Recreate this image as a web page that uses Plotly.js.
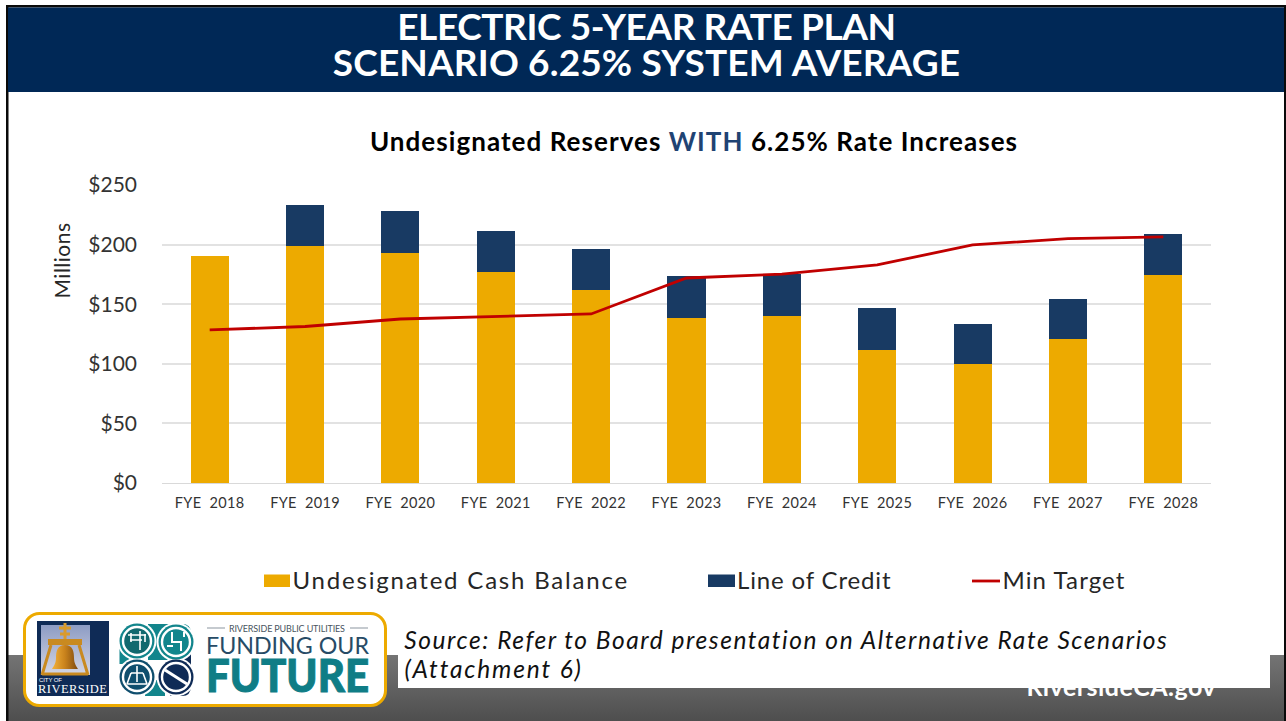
<!DOCTYPE html>
<html>
<head>
<meta charset="utf-8">
<script src="https://cdn.plot.ly/plotly-3.0.1.min.js"></script>
<style>
html,body{margin:0;padding:0;background:#fff;overflow:hidden}
#wrap{position:relative;width:1286px;height:721px}
#deco{position:absolute;left:0;top:0}
#chart{position:absolute;left:0;top:0;width:1286px;height:721px}
.gtitle{letter-spacing:1.05px}
.xtick text{letter-spacing:.35px}
.annotation[data-index="1"] text{letter-spacing:1.55px}
.annotation[data-index="2"] text{letter-spacing:1.85px}
.annotation[data-index="3"] text{letter-spacing:.5px}
.annotation[data-index="4"] text{letter-spacing:1.8px}
.annotation[data-index="5"] text{letter-spacing:.85px}
.annotation[data-index="6"] text{letter-spacing:1.1px}
</style>
</head>
<body>
<div id="wrap">
<svg id="deco" width="1286" height="721" viewBox="0 0 1286 721">
  <defs>
    <linearGradient id="foot" x1="0" y1="0" x2="0" y2="1"><stop offset="0" stop-color="#747474"/><stop offset="1" stop-color="#4e4e4e"/></linearGradient>
    <linearGradient id="sky" x1="0" y1="0" x2="0" y2="1"><stop offset="0" stop-color="#8d9cc4"/><stop offset="1" stop-color="#d4d6e4"/></linearGradient>
    <linearGradient id="gold" x1="0" y1="0" x2="1" y2="0"><stop offset="0" stop-color="#f3b23a"/><stop offset="0.5" stop-color="#c9821c"/><stop offset="1" stop-color="#7e4a10"/></linearGradient>
  </defs>
  <rect x="0" y="0" width="1286" height="721" fill="#fff"/>
  <rect x="8" y="655" width="1276" height="66" fill="url(#foot)"/>
  <rect x="6" y="5" width="2.5" height="716" fill="#0a0a0a"/>
  <rect x="6" y="5" width="1279" height="2.5" fill="#0a0a0a"/>
  <rect x="1284" y="5" width="2" height="716" fill="#0a0a0a"/>
  <rect x="8" y="7.5" width="1276" height="84.5" fill="#002856"/>
  <text x="1121" y="696" text-anchor="middle" fill="#fff" font-family="Lato" font-weight="700" font-size="25" textLength="189">RiversideCA.gov</text>
  <rect x="398" y="622" width="872" height="66" fill="#fff"/>
  <rect x="24.5" y="613.5" width="361" height="92" rx="15" fill="#fff" stroke="#edaa00" stroke-width="3"/>
  <!-- city seal -->
  <rect x="37" y="621" width="72" height="75" fill="#0f2b56"/>
  <rect x="41" y="625" width="49" height="50" fill="url(#sky)"/>
  <path d="M65 623v17M59 628h12M60 634h10" stroke="#d99a2b" stroke-width="3" fill="none"/>
  <rect x="48" y="639" width="34" height="6" fill="#c98a20"/>
  <path d="M51 645L42 675M79 645L88 675M42 674h46" stroke="#c98a20" stroke-width="3" fill="none"/>
  <path d="M65 645c-8 0-9 7-9 13c0 6-3 9-4 11h26c-1-2-4-5-4-11c0-6-1-13-9-13z" fill="url(#gold)"/>
  <text font-family="Liberation Sans" fill="#fff"><tspan x="39" y="682" font-size="6" textLength="23">CITY OF</tspan><tspan x="38" y="693" font-family="Liberation Serif" font-size="12.5" textLength="69">RIVERSIDE</tspan></text>
  <!-- utility icons -->
  <path d="M148 624H182Q191 624 191 633V660H148Z" fill="#12858c"/>
  <path d="M119.5 640H140V664H119.5Z" fill="#12858c"/>
  <path d="M191 652V686Q191 696 182 696H170V652Z" fill="#0f2b56"/>
  <path d="M145 680H165V696H145Z" fill="#12858c"/>
  <circle cx="137" cy="641" r="19.5" fill="#fff"/><circle cx="176" cy="642" r="19.5" fill="#fff"/>
  <circle cx="137" cy="677" r="19.5" fill="#fff"/><circle cx="176" cy="677" r="19.5" fill="#fff"/>
  <circle cx="137" cy="641" r="17.5" fill="#12858c"/><circle cx="137" cy="641" r="14" fill="#12696f" stroke="#fff" stroke-width="2.4"/>
  <path d="M128 635h18M130 640h12M140 631v19M131 633v9M145 634v8" stroke="#fff" stroke-width="1.6" fill="none"/>
  <circle cx="176" cy="642" r="17.5" fill="#12858c"/><circle cx="176" cy="642" r="14" fill="#12858c" stroke="#fff" stroke-width="2.4"/>
  <path d="M172 632v10h9v9M184 632v5M167 646h6" stroke="#fff" stroke-width="2" fill="none"/>
  <circle cx="137" cy="677" r="17.5" fill="#0f4e6e"/><circle cx="137" cy="677" r="14" fill="#0f4e6e" stroke="#fff" stroke-width="2.4"/>
  <path d="M137 666v7M131 673h12M131 673l-4 11M143 673l4 11M127 684h20M137 673v9" stroke="#fff" stroke-width="1.6" fill="none"/>
  <circle cx="176" cy="677" r="17.5" fill="#0f2b56"/><circle cx="176" cy="677" r="14" fill="#0f2b56" stroke="#fff" stroke-width="2.4"/>
  <path d="M165 670L187 684" stroke="#fff" stroke-width="3" fill="none"/>
  <!-- brand text -->
  <path d="M207 628h18M350 628h18" stroke="#8b959f" stroke-width="1"/>
  <text font-family="Lato"><tspan x="229" y="631.5" fill="#4a5561" font-size="9" textLength="116">RIVERSIDE PUBLIC UTILITIES</tspan><tspan x="206" y="654" fill="#274b66" font-size="23" textLength="163" lengthAdjust="spacingAndGlyphs">FUNDING OUR</tspan><tspan x="206" y="692" fill="#0f7d86" font-weight="900" font-size="45" textLength="163" lengthAdjust="spacingAndGlyphs" stroke="#0f7d86" stroke-width="1">FUTURE</tspan></text>
</svg>
<div id="chart"></div>
</div>
<script>
const categories = ["FYE  2018","FYE  2019","FYE  2020","FYE  2021","FYE  2022","FYE  2023","FYE  2024","FYE  2025","FYE  2026","FYE  2027","FYE  2028"];
const cashBalance = [190.4,198.8,193,176.6,161.5,138.4,140.1,111.6,99.8,120.8,174.9];
const lineOfCredit = [0,34.8,35.2,34.8,34.8,35.3,35.2,35.2,33.6,33.6,34];
const minTarget = [128.4,131.3,137.6,140,141.8,172,175.3,183,199.7,205,206.4];
const tickVals = [0,50,100,150,200,250];
const tickText = ["$0","$50","$100","$150","$200","$250"];
const seriesNames = ["Undesignated Cash Balance","Line of Credit","Min Target"];
const W=1286,H=721,L=162,R=1211,T=185,B=483;
const fx=x=>(x-L)/(R-L), fy=y=>(B-y)/(B-T);
const bodyFont="Lato, 'Open Sans', sans-serif";
const ink='#262626';
const note=(x,y,text,size,color)=>({xref:'paper',yref:'paper',x:fx(x),y:fy(y),xanchor:'center',yanchor:'middle',showarrow:false,text,font:{family:bodyFont,size,color:color||ink}});
const data=[
 {type:'bar',name:seriesNames[0],x:categories,y:cashBalance,marker:{color:'#edaa00'}},
 {type:'bar',name:seriesNames[1],x:categories,y:lineOfCredit,marker:{color:'#183a63'}},
 {type:'scatter',mode:'lines',name:seriesNames[2],x:categories,y:minTarget,line:{color:'#c00000',width:2.8}}
];
const layout={
 width:W,height:H,paper_bgcolor:'rgba(0,0,0,0)',plot_bgcolor:'rgba(0,0,0,0)',
 margin:{l:L,r:W-R,t:T,b:H-B,pad:0},
 barmode:'stack',bargap:0.6,showlegend:false,
 title:{text:'<b>Undesignated Reserves <span style="color:#1f4373">WITH</span> 6.25% Rate Increases</b>',
   font:{family:bodyFont,size:26,color:'#000'},x:fx(694),xref:'paper',xanchor:'center',y:1-142/H,yanchor:'middle',yref:'container'},
 xaxis:{type:'category',tickfont:{family:bodyFont,size:14.5,color:'#333'},showgrid:false,showline:true,linecolor:'#d9d9d9',linewidth:1,ticks:'',ticklabelstandoff:7},
 yaxis:{range:[0,250],tickmode:'array',tickvals:tickVals,ticktext:tickText,tickfont:{family:bodyFont,size:21,color:'#333'},
   gridcolor:'#e2e2e2',gridwidth:1.5,zeroline:false,showline:false,ticks:'',ticklabelstandoff:24},
 shapes:[
  {type:'rect',xref:'paper',yref:'paper',x0:fx(264),x1:fx(290),y0:fy(574.5),y1:fy(587),fillcolor:'#edaa00',line:{width:0}},
  {type:'rect',xref:'paper',yref:'paper',x0:fx(708),x1:fx(735),y0:fy(574.5),y1:fy(587),fillcolor:'#183a63',line:{width:0}},
  {type:'line',xref:'paper',yref:'paper',x0:fx(972),x1:fx(1000),y0:fy(581),y1:fy(581),line:{color:'#c00000',width:2.8}}
 ],
 annotations:[
  note(646,49,'<b>ELECTRIC 5-YEAR RATE PLAN<br>SCENARIO 6.25% SYSTEM AVERAGE</b>',37,'#fff'),
  note(786.5,639,'<i>Source: Refer to Board presentation on Alternative Rate Scenarios</i>',24.5,'#111'),
  note(493.5,668.5,'<i>(Attachment 6)</i>',24.5,'#111'),
  Object.assign(note(60.5,261,'Millions',21),{textangle:-90}),
  note(460,579.5,seriesNames[0],24),
  note(814.5,579.5,seriesNames[1],24),
  note(1063.5,579.5,seriesNames[2],24)
 ]
};
Plotly.newPlot('chart',data,layout,{displayModeBar:false,responsive:false}).then(gd=>{
  const lines=gd.querySelectorAll('.annotation[data-index="0"] tspan.line');
  if(lines.length>1){
    lines[0].style.letterSpacing='-.4px';
    lines[1].style.letterSpacing='.15px';
    lines[1].setAttribute('dy','0.96em');
  }
});
</script>
</body>
</html>
